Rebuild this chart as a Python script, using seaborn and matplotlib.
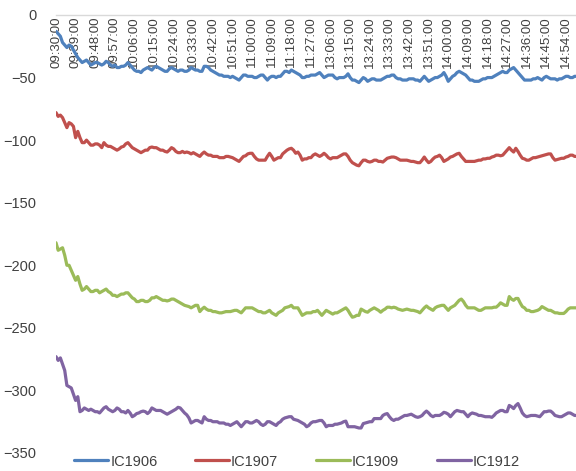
import pandas as pd
import matplotlib
matplotlib.use("Agg")
import matplotlib.pyplot as plt
import seaborn as sns

# minute timestamps: morning session 09:30-11:30, afternoon 13:01-15:00
times = list(pd.date_range("09:30", "11:30", freq="1min").strftime("%H:%M:%S")) + \
    list(pd.date_range("13:01", "15:00", freq="1min").strftime("%H:%M:%S"))

series_names = ["IC1906", "IC1907", "IC1909", "IC1912"]

ic1906 = [
    -13, -15, -17, -22, -24, -26, -24, -25, -28, -31,
    -34, -36, -38, -37, -36, -38, -40, -39, -38, -38,
    -39, -40, -39, -37, -38, -40, -41, -40, -42, -42,
    -41, -41, -40, -38, -40, -42, -44, -45, -45, -46,
    -44, -43, -42, -43, -44, -42, -41, -42, -43, -44,
    -45, -45, -43, -42, -43, -44, -45, -44, -44, -45,
    -45, -44, -42, -43, -44, -44, -45, -45, -41, -41,
    -42, -44, -45, -46, -47, -48, -48, -49, -49, -49,
    -50, -49, -50, -51, -52, -50, -48, -48, -49, -49,
    -49, -50, -50, -49, -48, -48, -50, -52, -50, -49,
    -49, -50, -49, -49, -47, -45, -45, -46, -44, -45,
    -46, -47, -48, -50, -50, -49, -49, -48, -48, -48,
    -47, -46, -48, -50, -49, -48, -48, -48, -50, -51,
    -50, -50, -50, -49, -47, -50, -52, -52, -53, -54,
    -52, -50, -51, -53, -52, -51, -51, -52, -52, -52,
    -51, -50, -49, -49, -48, -48, -50, -51, -51, -52,
    -52, -52, -51, -51, -51, -52, -52, -53, -51, -49,
    -51, -53, -52, -51, -50, -50, -49, -48, -46, -49,
    -53, -51, -49, -48, -46, -45, -46, -47, -48, -50,
    -52, -52, -53, -53, -53, -52, -51, -51, -50, -50,
    -50, -49, -48, -47, -46, -45, -46, -46, -44, -43,
    -42, -44, -46, -48, -50, -52, -52, -52, -52, -51,
    -51, -50, -51, -52, -50, -49, -50, -51, -51, -51,
    -52, -51, -51, -50, -49, -49, -50, -50, -49, -49,
    -49,
]

ic1907 = [
    -78, -81, -80, -82, -86, -90, -86, -87, -89, -98,
    -93, -98, -102, -102, -100, -102, -104, -104, -103, -103,
    -104, -106, -102, -104, -105, -105, -106, -107, -108, -107,
    -105.5, -105, -103, -102, -104, -106, -107, -108, -109, -110,
    -109, -108, -108, -106, -105.5, -106, -106, -107, -108, -108,
    -109, -109.5, -108, -106, -107, -109, -110, -110, -109, -110,
    -109.5, -110, -111, -110, -111, -112, -113, -111, -109.5, -111,
    -112, -112, -113, -113, -113, -114, -114, -114, -113, -113,
    -113.5, -114, -115, -116, -117, -115, -113, -112.5, -111, -110.5,
    -110.5, -113, -115, -116, -116, -116, -116, -113, -110.5, -113,
    -116, -115, -114, -114, -111, -109.5, -108, -107, -106.5, -108,
    -110.5, -109.5, -112, -116, -115, -115, -114, -114, -112, -111,
    -112, -113, -112, -110.5, -112, -114, -115, -114, -114, -114,
    -113, -112, -111, -111, -113, -116, -118, -119, -120, -120.5,
    -118, -116, -116, -117, -117.5, -117, -116, -116, -117, -117,
    -117.5, -116, -114.5, -114, -113.5, -113.5, -114, -115, -116, -116,
    -116, -116, -116.5, -117, -117, -117.5, -118, -118, -116, -113.5,
    -116, -118, -117, -115, -113.5, -113, -112, -114, -117, -116,
    -115, -113.5, -113, -112, -111, -110.5, -113, -115, -117, -117,
    -117, -117, -117, -116.5, -116, -116, -115, -115, -114.5, -114.5,
    -113.5, -113, -112, -112, -112.5, -112, -110, -108, -106, -108,
    -109.5, -106.5, -109, -112, -114.5, -115, -116, -116, -115, -114,
    -114, -113.5, -113, -112.5, -112, -111.5, -111, -111, -114, -116,
    -115.5, -115, -114.5, -114.5, -113.5, -113, -112, -112, -113, -113,
    -113,
]

ic1909 = [
    -182, -188, -187, -186, -192, -200, -200, -204, -208, -212,
    -209, -215, -220, -219, -217, -219, -221, -221, -220, -220,
    -222, -221, -220, -219, -221, -222, -224, -224, -225, -224,
    -223, -223, -222, -222, -224, -226, -227, -229, -229, -228,
    -228, -229, -229, -228, -226, -226, -225, -226, -227, -228,
    -228, -228.5, -228, -227, -227, -228, -229, -230, -231, -232,
    -232.5, -233, -234, -233, -232, -232, -237, -235, -233.5, -235,
    -236, -236, -237, -237, -237.5, -238, -238, -237.5, -237, -237,
    -237, -236.5, -236, -236, -237, -238, -236, -234, -234, -234,
    -234, -235, -236, -237, -237, -238, -238, -237, -236, -238,
    -239, -240, -238, -237, -236, -234, -233.5, -233, -232, -234,
    -234, -234, -237, -240, -239, -238, -238, -238, -237, -237,
    -236, -238, -240, -238, -236, -237, -238, -239, -238, -238,
    -237, -236, -235, -234, -236, -239, -241.5, -241, -240, -240,
    -235, -236, -237, -237.5, -236, -235, -234, -235, -236, -237.5,
    -236, -235, -233.5, -233.5, -234, -233.5, -234, -235, -235.5, -236,
    -235.5, -235, -235.5, -236, -236, -236.5, -237, -238, -236, -234,
    -232.5, -234, -235, -236, -234, -233, -232.5, -232, -232, -234,
    -236, -234, -233, -232, -230, -228, -227, -229, -232, -234,
    -234, -234, -234, -235, -236, -236, -235, -234, -234, -234,
    -234, -233.5, -233.5, -232, -230, -231, -232, -232, -225, -227,
    -228, -226.5, -226.5, -230, -233, -234, -236, -236, -237, -237,
    -236.5, -236, -235, -233, -234, -235, -236, -236, -237, -238,
    -238, -238.5, -238.5, -238.5, -237, -235, -234, -234, -234, -234,
    -234,
]

ic1912 = [
    -273, -276, -274, -279, -284, -296, -297, -298, -303, -308,
    -305, -317, -316, -314, -315, -316, -315, -316, -317, -317,
    -318, -316, -314, -313, -315, -316, -317, -316, -314, -315,
    -317, -317, -318, -316, -318, -321, -320, -318.5, -318, -317,
    -316.5, -317, -318.5, -317, -314, -315, -316, -316, -316, -317,
    -318, -319, -318, -317, -316, -315, -313.5, -314, -316, -318,
    -319.5, -322, -326, -325, -324, -324, -325, -326, -321, -323,
    -324, -324, -325, -325, -325, -326, -326, -326, -327, -327,
    -328, -327, -326, -325, -327, -329, -327, -325, -325, -326,
    -326, -325, -324, -325, -327, -328, -327, -325, -325, -326,
    -327, -328, -326, -325, -323, -322, -321.5, -321, -321, -323,
    -323.5, -324, -325, -326, -327, -329, -328, -326, -325, -325,
    -324.5, -324, -324, -326, -329, -328, -328, -328, -327, -327,
    -326.5, -326, -325, -324.5, -329, -329, -329, -329, -329.5, -330,
    -330, -326.5, -326, -325.5, -325, -325, -322.5, -322.5, -322.5, -322.5,
    -320, -319, -318.5, -321, -323, -324, -323, -323, -322, -321,
    -320, -320, -319.5, -319, -320, -321, -321.5, -321, -320, -318,
    -316.5, -318, -320, -321, -320, -320, -320, -319, -317.5, -318,
    -319, -321, -319, -317, -316, -316.5, -317, -317, -319, -321,
    -319, -318, -318.5, -319, -320, -320, -320.5, -321, -321, -321,
    -321.5, -320, -318, -317, -316, -316, -317, -317, -312, -313,
    -314.5, -312, -310.5, -314, -318, -320, -321, -320.5, -320, -320,
    -320, -320.5, -321, -319, -317, -317, -316.5, -316.5, -318, -320,
    -320.5, -321, -321, -320, -319, -318, -318, -319, -320, -320,
    -320,
]

colors = ["#4F81BD", "#C0504D", "#9BBB59", "#8064A2"]

frames = []
for name, vals in zip(series_names, [ic1906, ic1907, ic1909, ic1912]):
    frames.append(pd.DataFrame({"pos": range(len(vals)), "time": times[:len(vals)],
                                "value": vals, "series": name}))
data = pd.concat(frames, ignore_index=True)

sns.set_style("white")
plt.rcParams["font.family"] = ["Liberation Sans", "DejaVu Sans"]

fig = plt.figure(figsize=(5.76, 4.71), dpi=100)
ax = fig.add_axes([56 / 576, 18 / 471, 523 / 576, 438 / 471])

# category axis crosses the value axis at 0 (top), like the Excel original
for side in ["top", "right", "left"]:
    ax.spines[side].set_visible(False)
ax.spines["bottom"].set_position(("data", 0))
ax.spines["bottom"].set_color("#d9d9d9")
ax.spines["bottom"].set_linewidth(1)

sns.lineplot(data=data, x="pos", y="value", hue="series", palette=colors,
             linewidth=2.3, sort=False, ax=ax, legend=True)
for line in ax.lines:
    line.set_zorder(3)
    line.set_solid_capstyle("round")
    line.set_solid_joinstyle("round")

ax.set_xlim(0, len(times) - 1)
ax.set_ylim(-350, 0)
ax.set_yticks(range(-350, 1, 50))
tick_pos = list(range(0, len(times), 9))
ax.set_xticks(tick_pos)
ax.set_xticklabels([times[i] for i in tick_pos])
plt.setp(ax.get_xticklabels(), rotation=90, fontsize=9.5, color="#404040",
         va="top", ha="center")
ax.tick_params(axis="x", length=0, pad=1)
ax.tick_params(axis="y", length=0, pad=14, labelsize=10.5, labelcolor="#404040")
ax.set_xlabel("")
ax.set_ylabel("")

handles, labels = ax.get_legend_handles_labels()
ax.get_legend().remove()
fig.legend(handles, labels, loc="center", bbox_to_anchor=(0.516, 0.02), ncol=4,
           frameon=False, fontsize=10.5, handlelength=2.3, handletextpad=0.15,
           columnspacing=2.6, labelcolor="#404040")

fig.savefig("out.png", dpi=100)
